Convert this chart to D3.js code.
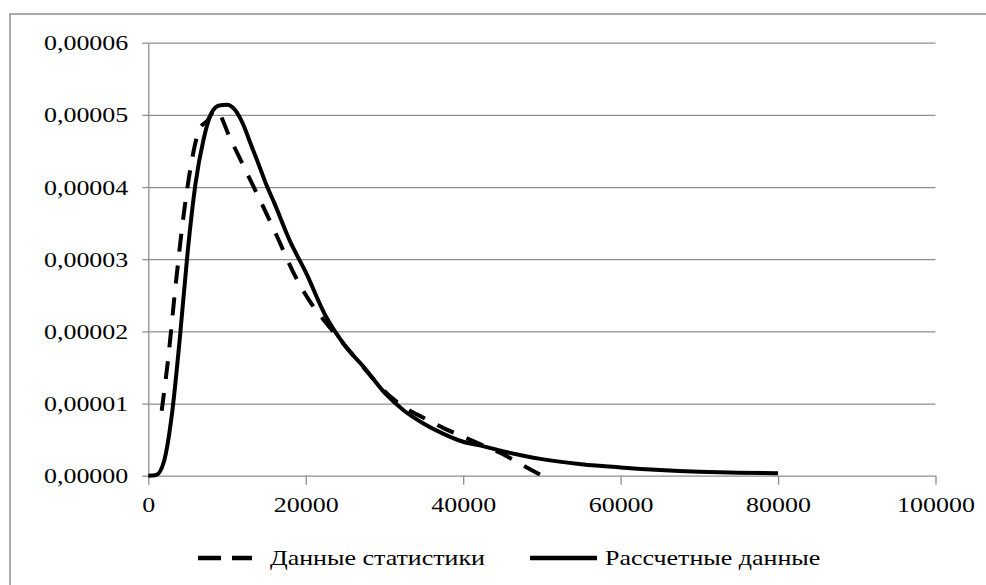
<!DOCTYPE html>
<html>
<head>
<meta charset="utf-8">
<script src="https://cdn.jsdelivr.net/npm/d3@7"></script>
<style>
  body { margin: 0; background: #fff; }
  svg { display: block; }
  text { font-family: "Liberation Serif", "Times New Roman", serif; }
</style>
</head>
<body>
<svg></svg>
<script>
// statistics (dashed)
const statX = [1700, 2500, 3500, 4500, 5500, 6500, 7500, 8500, 10500, 12500, 14500, 16500,
    18500, 20500, 22500, 25000, 27500, 30000, 32500, 35000, 37500, 40000, 42500, 45000, 47500, 50000];
const statY = [0.9e-5, 1.6e-5, 2.67e-5, 3.62e-5, 4.35e-5, 4.8e-5, 4.92e-5, 5.07e-5, 4.65e-5, 4.2e-5,
    3.75e-5, 3.28e-5, 2.8e-5, 2.42e-5, 2.13e-5, 1.8e-5, 1.48e-5, 1.17e-5, 0.95e-5, 0.8e-5,
    0.66e-5, 0.54e-5, 0.42e-5, 0.3e-5, 0.15e-5, 0];

// calculated (solid)
const calcX = [0, 1000, 2000, 3000, 4000, 5000, 6000, 7000, 8000, 9000, 10000, 11000, 12000,
    13000, 14000, 15000, 16000, 18000, 20000, 22500, 25000, 27500, 30000, 32500, 35000, 37500,
    40000, 42500, 45000, 47500, 50000, 55000, 60000, 65000, 70000, 75000, 80000];
const calcY = [0, 0.01e-5, 0.2e-5, 0.85e-5, 1.9e-5, 3.1e-5, 4.05e-5, 4.65e-5, 5.02e-5, 5.13e-5,
    5.14e-5, 5.07e-5, 4.88e-5, 4.6e-5, 4.32e-5, 4.03e-5, 3.78e-5, 3.25e-5, 2.82e-5, 2.22e-5,
    1.8e-5, 1.49e-5, 1.15e-5, 0.9e-5, 0.72e-5, 0.58e-5, 0.47e-5, 0.41e-5, 0.34e-5, 0.28e-5,
    0.23e-5, 0.16e-5, 0.115e-5, 0.08e-5, 0.056e-5, 0.042e-5, 0.033e-5];

const xTicks = [0, 20000, 40000, 60000, 80000, 100000];
const yTicks = [0, 0.00001, 0.00002, 0.00003, 0.00004, 0.00005, 0.00006];
const seriesNames = ["Данные статистики", "Рассчетные данные"];

const width = 986, height = 585;
const svg = d3.select('svg').attr('width', width).attr('height', height);
const margin = { top: 42.7, right: 50.5, bottom: 109.3, left: 148.3 };
const innerWidth = width - margin.left - margin.right;
const innerHeight = height - margin.top - margin.bottom;
const grey = '#8e8e8e';
const fontSize = 22;
const sx = 1.18; // text in the picture is stretched sideways

// widen a text without a transform
function stretch(sel) {
    sel.each(function () {
        const w = this.getComputedTextLength();
        d3.select(this).attr('textLength', w * sx).attr('lengthAdjust', 'spacingAndGlyphs');
    });
}

// outer chart frame (top and left edges visible)
svg.append('path')
    .attr('d', `M10,${height}V14H${width}`)
    .attr('fill', 'none').attr('stroke', grey).attr('stroke-width', 1.5);

const g = svg.append('g').attr('transform', `translate(${margin.left},${margin.top})`);

const xScale = d3.scaleLinear().domain([0, 100000]).range([0, innerWidth]);
const yScale = d3.scaleLinear().domain([0, 0.00006]).range([innerHeight, 0]);

const locale = d3.formatLocale({ decimal: ",", thousands: "", grouping: [3], currency: ["", ""] });
const yFmt = locale.format(".5f");

// gridlines
g.append('g')
    .call(d3.axisLeft(yScale).tickValues(yTicks.slice(1)).tickSize(-innerWidth).tickFormat(''))
    .call(a => a.select('.domain').remove())
    .call(a => a.selectAll('text').remove())
    .selectAll('line').attr('stroke', grey).attr('stroke-width', 1.3);

// y axis
const gy = g.append('g')
    .call(d3.axisLeft(yScale).tickValues(yTicks).tickSize(6).tickSizeOuter(0).tickPadding(14).tickFormat(yFmt));
gy.select('.domain').attr('stroke', grey).attr('stroke-width', 1.3);
gy.selectAll('line').attr('stroke', grey).attr('stroke-width', 1.3);
gy.selectAll('text')
    .attr('font-size', fontSize).attr('fill', '#000')
    .attr('dy', null).attr('y', fontSize * 0.32)
    .call(stretch);

// x axis
const gx = g.append('g').attr('transform', `translate(0,${innerHeight})`)
    .call(d3.axisBottom(xScale).tickValues(xTicks).tickSize(9).tickSizeOuter(0).tickPadding(12).tickFormat(d3.format('d')));
gx.select('.domain').attr('stroke', grey).attr('stroke-width', 1.3);
gx.selectAll('line').attr('stroke', grey).attr('stroke-width', 1.3);
gx.selectAll('text').attr('font-size', fontSize).attr('fill', '#000').call(stretch);

const line = d3.line()
    .x(d => xScale(d[0]))
    .y(d => yScale(d[1]))
    .curve(d3.curveMonotoneX);

const calcData = calcX.map((v, i) => [v, calcY[i]]);
const statData = statX.map((v, i) => [v, statY[i]]);

g.append('path').datum(calcData)
    .attr('d', line)
    .attr('fill', 'none').attr('stroke', '#000').attr('stroke-width', 4)
    .attr('stroke-linejoin', 'round');

g.append('path').datum(statData)
    .attr('d', line)
    .attr('fill', 'none').attr('stroke', '#000').attr('stroke-width', 4)
    .attr('stroke-dasharray', '18,14');

// legend
const legendY = 558;
const legend = svg.append('g');
const items = [
    { name: seriesNames[0], x: 198, dash: '23,11' },
    { name: seriesNames[1], x: 530, dash: null }
];
items.forEach(it => {
    const lg = legend.append('g').attr('transform', `translate(${it.x},${legendY})`);
    lg.append('line')
        .attr('x1', 0).attr('x2', it.dash ? 54 : 67)
        .attr('stroke', '#000').attr('stroke-width', 4.5)
        .attr('stroke-dasharray', it.dash);
    lg.append('text')
        .attr('x', it.dash ? 72 : 75)
        .attr('y', fontSize * 0.32)
        .attr('font-size', fontSize)
        .text(it.name)
        .call(stretch);
});
</script>
</body>
</html>
